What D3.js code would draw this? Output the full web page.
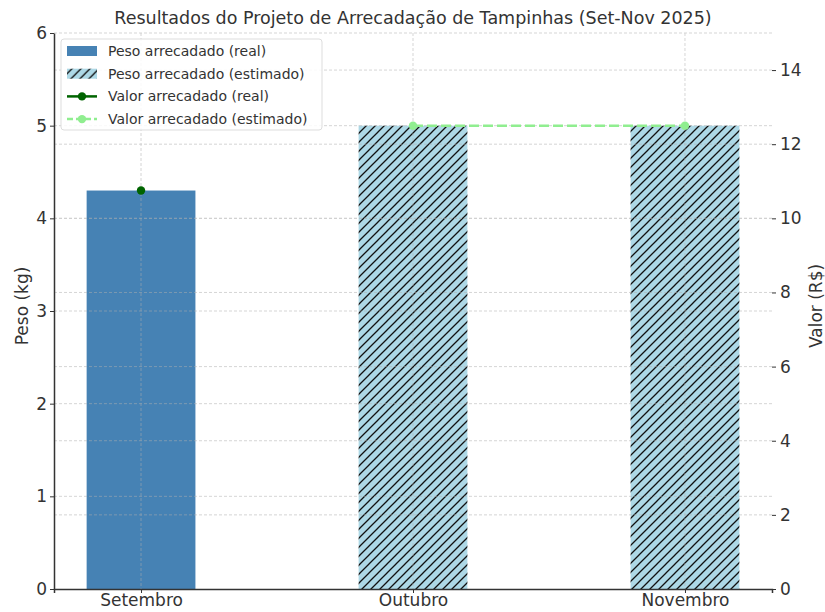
<!DOCTYPE html>
<html>
<head>
<meta charset="utf-8">
<script src="https://cdn.jsdelivr.net/npm/d3@7"></script>
<style>
  body { margin: 0; background: #fff; }
  text { font-family: 'DejaVu Sans', sans-serif; fill: #333; }
</style>
</head>
<body>
<div class="chart-container"></div>
<script>
// data
const months = ['Setembro', 'Outubro', 'Novembro'];
const pesoReal = [4.3, null, null];
const pesoEstimado = [null, 5, 5];
const valorReal = [10.75, null, null];
const valorEstimado = [null, 12.5, 12.5];
const leftTicks = [0, 1, 2, 3, 4, 5, 6];
const rightTicks = [0, 2, 4, 6, 8, 10, 12, 14];

const margin = { top: 33, right: 53, bottom: 23, left: 54 };
const width = 825 - margin.left - margin.right;
const height = 612 - margin.top - margin.bottom;

const svg = d3.select('.chart-container')
    .append('svg')
    .attr('width', 825)
    .attr('height', 612);

const g = svg.append('g')
    .attr('transform', `translate(${margin.left}, ${margin.top})`);

// hatch pattern
const defs = svg.append('defs');
const pat = defs.append('pattern')
    .attr('id', 'hatch')
    .attr('patternUnits', 'userSpaceOnUse')
    .attr('width', 9)
    .attr('height', 9);
pat.append('rect').attr('width', 9).attr('height', 9).attr('fill', 'lightblue');
pat.append('path')
    .attr('d', 'M-1,1 l2,-2 M0,9 l9,-9 M8,10 l2,-2')
    .attr('stroke', '#111')
    .attr('stroke-width', 1.3);

// scales
const x = d3.scalePoint()
    .domain(months)
    .range([0, width])
    .padding(0.32);
const barWidth = 0.4 * x.step();

const yLeft = d3.scaleLinear().domain([0, 6]).range([height, 0]);
const yRight = d3.scaleLinear().domain([0, 15]).range([height, 0]);

// bars
g.selectAll('.bar-real')
    .data(months.filter((m, i) => pesoReal[i] != null))
    .enter().append('rect')
    .attr('x', d => x(d) - barWidth / 2)
    .attr('y', d => yLeft(pesoReal[months.indexOf(d)]))
    .attr('width', barWidth)
    .attr('height', d => height - yLeft(pesoReal[months.indexOf(d)]))
    .attr('fill', 'steelblue');

g.selectAll('.bar-est')
    .data(months.filter((m, i) => pesoEstimado[i] != null))
    .enter().append('rect')
    .attr('x', d => x(d) - barWidth / 2)
    .attr('y', d => yLeft(pesoEstimado[months.indexOf(d)]))
    .attr('width', barWidth)
    .attr('height', d => height - yLeft(pesoEstimado[months.indexOf(d)]))
    .attr('fill', 'url(#hatch)');

// gridlines (drawn above bars, like the twin axes)
const grid = g.append('g')
    .attr('stroke', '#b0b0b0')
    .attr('stroke-dasharray', '3,2')
    .attr('stroke-width', 0.8)
    .attr('opacity', 0.65);
grid.selectAll('.gl')
    .data(leftTicks.slice(1))
    .enter().append('line')
    .attr('x1', 0).attr('x2', width)
    .attr('y1', d => yLeft(d)).attr('y2', d => yLeft(d));
grid.selectAll('.gr')
    .data(rightTicks.slice(1))
    .enter().append('line')
    .attr('x1', 0).attr('x2', width)
    .attr('y1', d => yRight(d)).attr('y2', d => yRight(d));
grid.selectAll('.gx')
    .data(months)
    .enter().append('line')
    .attr('x1', d => x(d)).attr('x2', d => x(d))
    .attr('y1', 0).attr('y2', height);

// lines
const line = d3.line()
    .defined(d => d.v != null)
    .x(d => x(d.m))
    .y(d => yRight(d.v));

const realData = months.map((m, i) => ({ m, v: valorReal[i] }));
const estData = months.map((m, i) => ({ m, v: valorEstimado[i] }));

g.append('path')
    .datum(realData)
    .attr('fill', 'none')
    .attr('stroke', 'darkgreen')
    .attr('stroke-width', 2.5)
    .attr('d', line);
g.selectAll('.pt-real')
    .data(realData.filter(d => d.v != null))
    .enter().append('circle')
    .attr('cx', d => x(d.m))
    .attr('cy', d => yRight(d.v))
    .attr('r', 4.2)
    .attr('fill', 'darkgreen');

g.append('path')
    .datum(estData)
    .attr('fill', 'none')
    .attr('stroke', 'lightgreen')
    .attr('stroke-width', 2.5)
    .attr('stroke-dasharray', '10,4')
    .attr('d', line);
g.selectAll('.pt-est')
    .data(estData.filter(d => d.v != null))
    .enter().append('circle')
    .attr('cx', d => x(d.m))
    .attr('cy', d => yRight(d.v))
    .attr('r', 4.2)
    .attr('fill', 'lightgreen');

// axes
const xAxis = g.append('g')
    .attr('transform', `translate(0, ${height})`)
    .call(d3.axisBottom(x).tickSize(4).tickPadding(1));
xAxis.select('.domain').attr('stroke', '#333').attr('stroke-width', 1.5);
xAxis.selectAll('text').style('font-size', '17px').style('fill', '#333');

const yAxisL = g.append('g')
    .call(d3.axisLeft(yLeft).tickValues(leftTicks).tickFormat(d3.format('d'))
        .tickSize(4).tickSizeOuter(0).tickPadding(3));
yAxisL.select('.domain').attr('stroke', '#333').attr('stroke-width', 1.5);
yAxisL.selectAll('text').style('font-size', '17px').style('fill', '#333');

const yAxisR = g.append('g')
    .attr('transform', `translate(${width}, 0)`)
    .call(d3.axisRight(yRight).tickValues(rightTicks).tickSize(4).tickPadding(4));
yAxisR.select('.domain').remove();
yAxisR.selectAll('text').style('font-size', '17px').style('fill', '#333');

g.selectAll('.tick line').attr('stroke', '#333');

// axis labels
g.append('text')
    .attr('transform', 'rotate(-90)')
    .attr('x', -height / 2 + 5)
    .attr('y', -26)
    .style('text-anchor', 'middle')
    .style('font-size', '17px')
    .text('Peso (kg)');

g.append('text')
    .attr('transform', 'rotate(-90)')
    .attr('x', -height / 2 + 5)
    .attr('y', width + 50)
    .style('text-anchor', 'middle')
    .style('font-size', '17px')
    .text('Valor (R$)');

// title
svg.append('text')
    .attr('x', margin.left + width / 2)
    .attr('y', 24)
    .style('text-anchor', 'middle')
    .style('font-size', '17.5px')
    .text('Resultados do Projeto de Arrecadação de Tampinhas (Set-Nov 2025)');

// legend
const legend = g.append('g').attr('transform', 'translate(7, 6)');
legend.append('rect')
    .attr('width', 261).attr('height', 91)
    .attr('rx', 3)
    .attr('fill', 'white').attr('fill-opacity', 0.85)
    .attr('stroke', '#ddd');

const legendItems = [
    { label: 'Peso arrecadado (real)', type: 'bar', fill: 'steelblue' },
    { label: 'Peso arrecadado (estimado)', type: 'bar', fill: 'url(#hatch)' },
    { label: 'Valor arrecadado (real)', type: 'line', color: 'darkgreen', dash: null },
    { label: 'Valor arrecadado (estimado)', type: 'line', color: 'lightgreen', dash: '6,3' }
];

legendItems.forEach((d, i) => {
    const row = legend.append('g').attr('transform', `translate(6, ${12 + i * 22.7})`);
    if (d.type === 'bar') {
        row.append('rect').attr('x', 0).attr('y', -5).attr('width', 30).attr('height', 10).attr('fill', d.fill);
    } else {
        row.append('line').attr('x1', 0).attr('x2', 30).attr('y1', 0).attr('y2', 0)
            .attr('stroke', d.color).attr('stroke-width', 2.5)
            .attr('stroke-dasharray', d.dash);
        row.append('circle').attr('cx', 15).attr('cy', 0).attr('r', 4.2).attr('fill', d.color);
    }
    row.append('text')
        .attr('x', 41)
        .attr('y', 5)
        .style('font-size', '14px')
        .text(d.label);
});
</script>
</body>
</html>
